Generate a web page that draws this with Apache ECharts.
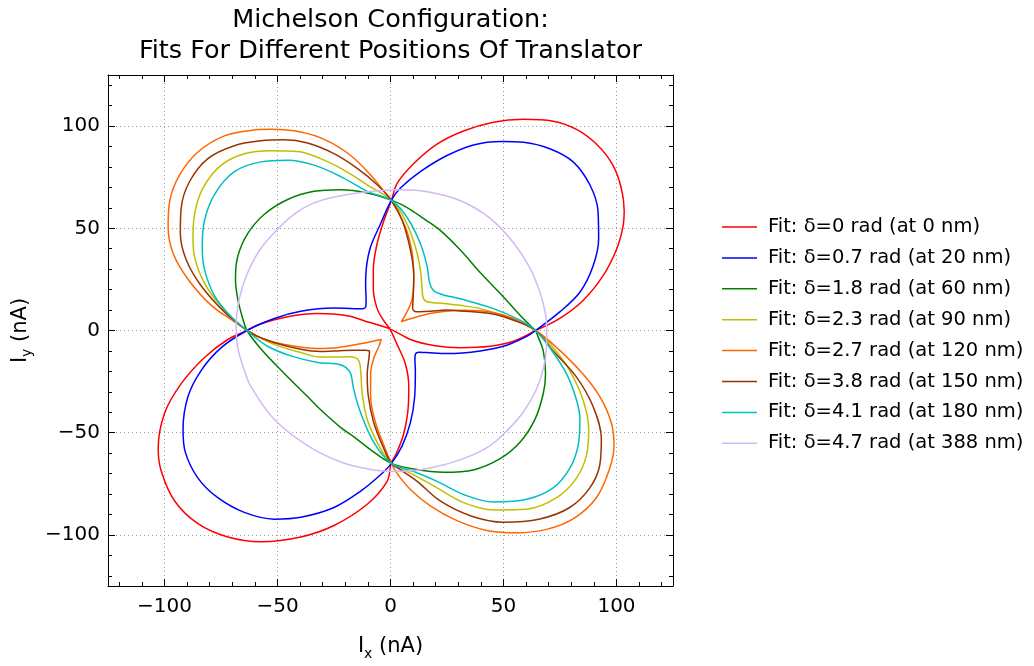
<!DOCTYPE html>
<html>
<head>
<meta charset="utf-8">
<script src="https://cdn.jsdelivr.net/npm/echarts@6/dist/echarts.min.js"></script>
<style>
  html, body { margin: 0; padding: 0; background: #ffffff; }
  #chart { width: 1034px; height: 666px; }
</style>
</head>
<body>
<div id="chart"></div>
<script>
// Fitted (Ix, Iy) loops in nA, one closed path per translator position.
const fitD00 = [[64.2,0],[74.9,5.9],[85.2,14.7],[94,26.7],[99.9,39.4],[102.8,50.5],[103.4,58.6],[102.1,69.7],[98.4,80.9],[91.1,91.2],[82.3,98.4],[72,102.4],[58.8,103.3],[45.5,101.9],[32.3,97.6],[20.6,91.2],[10.3,81.7],[3,72.1],[0.4,63.6],[-2.9,53.8],[-5.9,42.6],[-7.6,29.9],[-7.6,20.3],[-5.9,10.7],[-3,4.8],[-0.3,0.8],[2.9,-6.8],[6.6,-16.4],[8.1,-27.6],[7.6,-40.3],[5.6,-51.5],[2.2,-61],[0.3,-65],[-1.5,-73.8],[-10.3,-85],[-25,-95.4],[-39.7,-101],[-57.3,-103.3],[-72,-101],[-85.2,-94.5],[-95.5,-83.4],[-101.4,-69],[-102.8,-57.9],[-99.9,-40.3],[-92.6,-26],[-82.3,-13.2],[-72,-4.4],[-63.5,0],[-58.8,2.7],[-45.5,6.7],[-32.3,8.3],[-19.1,7.2],[-9.5,4],[-0.3,0.8],[8.8,-4.4],[19.1,-7.3],[30.9,-8.4],[44.1,-7.7],[54.4,-5.3],[64.2,0]];
const fitD07 = [[64.2,0],[74.9,9.1],[83.8,18.7],[89.6,31.4],[92.1,45],[91.8,58.6],[88.2,71.3],[80.8,82.5],[70.5,88.9],[58.8,92.1],[49.2,92.5],[36.7,90.8],[25,85.6],[13.2,77.7],[4.4,69.7],[0.4,63.8],[-4.4,52.2],[-8.8,41],[-10.6,31.4],[-11,21.9],[-10.8,15],[-10.9,11.8],[-12.2,10.7],[-16,10.7],[-25,11],[-39.7,9.4],[-51.4,5.9],[-63.5,0],[-74.9,-8.4],[-83.8,-19.6],[-89.6,-32.3],[-91.8,-48.3],[-90.8,-59.5],[-85.2,-72.2],[-76.4,-81.8],[-64.7,-89],[-51.4,-92.3],[-39.7,-91.4],[-25,-86.6],[-13.2,-78.6],[-4.4,-70.6],[0.4,-65],[5.2,-56.3],[8.8,-45.1],[10.7,-32.3],[11,-19.6],[10.8,-14],[11,-11.6],[12.5,-10.6],[16,-10.8],[25,-11.3],[39.7,-10],[51.4,-7.2],[60.3,-2.9],[64.2,0]];
const fitD18 = [[64.2,0],[57.3,7.5],[49.5,17],[40,28],[30.9,39.4],[22,49],[15,54.5],[9,59],[4.5,61.8],[0.4,63.8],[-10.3,67.3],[-22,68.9],[-33.8,68.1],[-45.5,64.1],[-55.8,56.9],[-63.2,47.4],[-67.6,36.2],[-68.6,25.1],[-67.6,15.5],[-65.4,5.9],[-63.5,0],[-57.3,-9],[-47,-21],[-36.7,-32.3],[-30.9,-38.8],[-22,-47.5],[-16.2,-52],[-8,-59],[0.4,-65],[10.3,-67.8],[23.5,-69.4],[36.7,-68.2],[48.5,-62.7],[57.3,-54.7],[63.9,-43.5],[67.6,-30.8],[68.6,-21.2],[67.6,-10],[65.3,-3],[64.2,0]];
const fitD23 = [[-63.5,0],[-72,8.3],[-80.8,20.3],[-86,33],[-87.4,44.2],[-86.7,56.9],[-83,69.7],[-74.9,80.9],[-64.7,86.5],[-52.9,88],[-41.1,87.6],[-30.9,84.1],[-20.6,78.5],[-10.3,71.3],[0.4,63.6],[6.6,53.8],[11,41],[13.2,29.9],[14,20.3],[14.5,15.8],[16,14.2],[19,13.6],[22,13.4],[30.9,12.3],[39.7,10.7],[51.4,6.7],[64.2,0],[72,-8.4],[79.3,-19.6],[85.2,-34],[87.7,-48.3],[86.7,-61.1],[82.3,-72.2],[73.5,-81.8],[60.3,-87.4],[45.5,-87.8],[32.3,-84.2],[20.6,-77],[10.3,-70.6],[0.4,-65],[-5.1,-56.3],[-10.3,-43.5],[-12.5,-30.8],[-13.2,-19.6],[-13.9,-15],[-15.4,-13.4],[-18.5,-12.9],[-24,-13],[-31,-13],[-39.7,-10.8],[-51.4,-6.8],[-63.5,0]];
const fitD27 = [[-63.5,0],[-69.1,4.3],[-79.3,12.3],[-89.6,25.1],[-96.2,37.8],[-98.4,50.6],[-97.7,63.3],[-93.3,76.1],[-85.2,87.3],[-73.5,95.2],[-61.7,97.9],[-52.9,98.4],[-39.7,97.1],[-27.9,92.8],[-17.6,85.6],[-8.8,76.1],[-2.9,68.1],[0.4,63.6],[6.6,50.6],[9.6,37.8],[10.3,25.1],[9.6,15.5],[7.3,9.1],[4.8,4.3],[11.8,6.7],[17.6,8.3],[22,9.1],[32.3,9.9],[44.1,9.1],[54.4,5.9],[64.2,0],[72,-6.8],[83.8,-19.6],[92.6,-32.3],[97.7,-45.1],[98.9,-56.3],[97,-67.5],[91.1,-81.8],[80.8,-92.2],[69.1,-97.3],[55.9,-99],[42.6,-97.8],[29.4,-93],[17.6,-85.8],[8.8,-77.8],[2.9,-69.9],[0.4,-65],[-2.9,-56.3],[-6.6,-45.1],[-8.8,-32.3],[-8.8,-21.2],[-7.3,-13.2],[-5.1,-7.7],[-4.1,-4.4],[-13.2,-6.5],[-23.5,-8.4],[-32.3,-8.8],[-47,-6.8],[-57.3,-3.6],[-63.5,0]];
const fitD38 = [[-63.5,0],[-73.5,9.1],[-83.8,21.9],[-90.4,34.6],[-93,47.4],[-92.6,60.1],[-88.9,72.9],[-80.8,84.1],[-69.1,90.4],[-57.3,92.8],[-47,93.3],[-36.7,91.7],[-25,86.5],[-14.7,79.3],[-5.9,71.3],[0.4,63.6],[5.2,53.8],[8.8,39.4],[10.3,26.7],[10,15.5],[9.8,11],[10.8,9.3],[13,9.2],[17.6,9.4],[25,10],[31,9.6],[44.1,8.3],[54.5,5],[64.2,0],[72,-10],[82.3,-22.8],[89.6,-37.1],[93.3,-53.1],[92.6,-65.8],[88.2,-77],[79.3,-86.6],[66.1,-92.2],[49.9,-93.8],[35.3,-90.6],[22,-83.4],[11.8,-73.8],[4.4,-68.2],[0.4,-65],[-2.9,-57.9],[-7.4,-45.1],[-9.8,-32.3],[-10.3,-21.2],[-9.5,-13.2],[-9.3,-10.3],[-11,-9.7],[-16.2,-9.7],[-25,-10],[-31,-10.3],[-39.7,-9.2],[-51.4,-6],[-58.8,-2.9],[-63.5,0]];
const fitD41 = [[-63.5,0],[-70.5,6.7],[-77.9,17.1],[-82.3,29.9],[-83.3,41],[-82.3,53.8],[-77.9,66.5],[-69.1,77.7],[-57.3,82.5],[-45.5,83.3],[-33.8,80.9],[-22,75.3],[-10.3,68.1],[0.4,63.6],[7.3,55.4],[13.2,42.6],[16.2,31.4],[17.3,23.4],[19.1,19.5],[23.5,17.4],[30.9,15.5],[45.5,10.7],[57.3,5.1],[64.2,0],[70.5,-8.4],[77.9,-21.2],[82.3,-34],[83.8,-43.5],[83,-56.3],[79.3,-67.5],[72,-77],[60.3,-82.6],[45.5,-83.9],[32.3,-80.2],[20.6,-73.8],[10.3,-69],[0.4,-65],[-7.4,-54.7],[-13.2,-40.3],[-16.2,-29.2],[-17.6,-21.2],[-19.8,-18],[-23.5,-16.4],[-32.3,-15.6],[-44.1,-12.4],[-54.4,-7.7],[-63.5,0]];
const fitD47 = [[69.1,0],[68.6,8],[66.1,18.7],[61.5,31],[54,43.5],[44,55],[31,63.5],[17,67.8],[4.4,68.9],[-14.7,67.3],[-26.4,64.9],[-35.3,61.7],[-42.6,56.9],[-50,49.5],[-57.5,40],[-63.5,27.5],[-67,15],[-68.3,2],[-67.6,-8.4],[-65,-18.5],[-61.7,-27.6],[-51.4,-43.5],[-36.7,-56.3],[-22,-64.3],[-7.4,-68.2],[4.4,-68.9],[17.6,-67.3],[32.3,-62.7],[44.1,-56.3],[52,-48.5],[59,-39.5],[64.5,-29],[67.8,-18],[69,-8],[69.1,0]];

const fitNames = [
  'Fit: \u03b4=0 rad (at 0 nm)',
  'Fit: \u03b4=0.7 rad (at 20 nm)',
  'Fit: \u03b4=1.8 rad (at 60 nm)',
  'Fit: \u03b4=2.3 rad (at 90 nm)',
  'Fit: \u03b4=2.7 rad (at 120 nm)',
  'Fit: \u03b4=3.8 rad (at 150 nm)',
  'Fit: \u03b4=4.1 rad (at 180 nm)',
  'Fit: \u03b4=4.7 rad (at 388 nm)'
];
const fitData = [fitD00, fitD07, fitD18, fitD23, fitD27, fitD38, fitD41, fitD47];

const majorTicks = [-100, -50, 0, 50, 100];
const minorTicks = [-120, -110, -90, -80, -70, -60, -40, -30, -20, -10, 10, 20, 30, 40, 60, 70, 80, 90, 110, 120];

const lineColors = ['#ff0000', '#0000ff', '#008000', '#bfbf00', '#ff6600', '#993300', '#00bfbf', '#d4b8f6'];
const plain = "'DejaVu Sans', sans-serif";

const minusFmt = v => (v < 0 ? '\u2212' + (-v) : String(v));

const nameRich = {
  i: { fontSize: 21, color: '#000', fontFamily: plain, lineHeight: 28, verticalAlign: 'middle' },
  s: { fontSize: 14, color: '#000', fontFamily: plain, lineHeight: 28, verticalAlign: 'bottom' }
};

function frameAxis(position, withLabels, name) {
  const ax = {
    type: 'value', position: position, min: -125, max: 125,
    axisLine: { show: true, onZero: false, lineStyle: { color: '#000', width: 1 } },
    axisTick: { show: true, inside: true, length: 7, customValues: majorTicks, lineStyle: { color: '#000', width: 1 } },
    axisLabel: withLabels ? {
      show: true, customValues: majorTicks, formatter: minusFmt,
      fontSize: 20, color: '#000', fontFamily: plain, margin: position === 'bottom' ? 11 : 8
    } : { show: false },
    splitLine: { show: false }
  };
  if (name) {
    ax.name = name;
    ax.nameLocation = 'middle';
    ax.nameTextStyle = { rich: nameRich };
  }
  return ax;
}
function minorAxis(position) {
  return {
    type: 'value', position: position, min: -125, max: 125,
    axisLine: { show: false, onZero: false },
    axisTick: { show: true, inside: true, length: 4, customValues: minorTicks, lineStyle: { color: '#000', width: 1 } },
    axisLabel: { show: false },
    splitLine: { show: false }
  };
}
function gridAxis(position) {
  // splits every 25; only every second one (the multiples of 50) is coloured
  return {
    type: 'value', position: position, min: -125, max: 125, interval: 25,
    axisLine: { show: false, onZero: false },
    axisTick: { show: false },
    axisLabel: { show: false },
    splitLine: { show: true, lineStyle: { color: ['rgba(0,0,0,0)', '#9a9a9a'], type: [1, 3], width: 1 } }
  };
}

const xBottom = frameAxis('bottom', true, '{i|I}{s|x}{i| (nA)}');
xBottom.nameGap = 47;
const yLeft = frameAxis('left', true, '{i|I}{s|y}{i| (nA)}');
yLeft.nameGap = 70;
yLeft.nameRotate = 90;

const series = fitData.map((d, k) => ({
  name: fitNames[k],
  type: 'line',
  data: d,
  xAxisIndex: 0,
  yAxisIndex: 0,
  smooth: 0.35,
  symbol: 'none',
  lineStyle: { color: lineColors[k], width: 1.5 },
  itemStyle: { color: lineColors[k] },
  z: 3 + k
}));

const chart = echarts.init(document.getElementById('chart'), null, { renderer: 'canvas' });
chart.setOption({
  animation: false,
  backgroundColor: '#ffffff',
  title: {
    text: 'Michelson Configuration:\nFits For Different Positions Of Translator',
    left: 390.5, top: 5, textAlign: 'center', padding: 0,
    textStyle: { fontSize: 25.5, fontWeight: 'normal', color: '#000', lineHeight: 31, fontFamily: plain }
  },
  legend: {
    orient: 'vertical', left: 722, top: 216, padding: 0,
    icon: 'rect', itemWidth: 35, itemHeight: 1.5, itemGap: 8.9,
    textStyle: { fontSize: 19.5, lineHeight: 22, color: '#000', fontFamily: plain, padding: [0, 0, 0, 6] },
    data: fitNames
  },
  grid: { left: 108, top: 75, width: 565, height: 522, containLabel: false },
  xAxis: [xBottom, minorAxis('bottom'), frameAxis('top', false), minorAxis('top'), gridAxis('bottom')],
  yAxis: [yLeft, minorAxis('left'), frameAxis('right', false), minorAxis('right'), gridAxis('left')],
  series: series
});
</script>
</body>
</html>
